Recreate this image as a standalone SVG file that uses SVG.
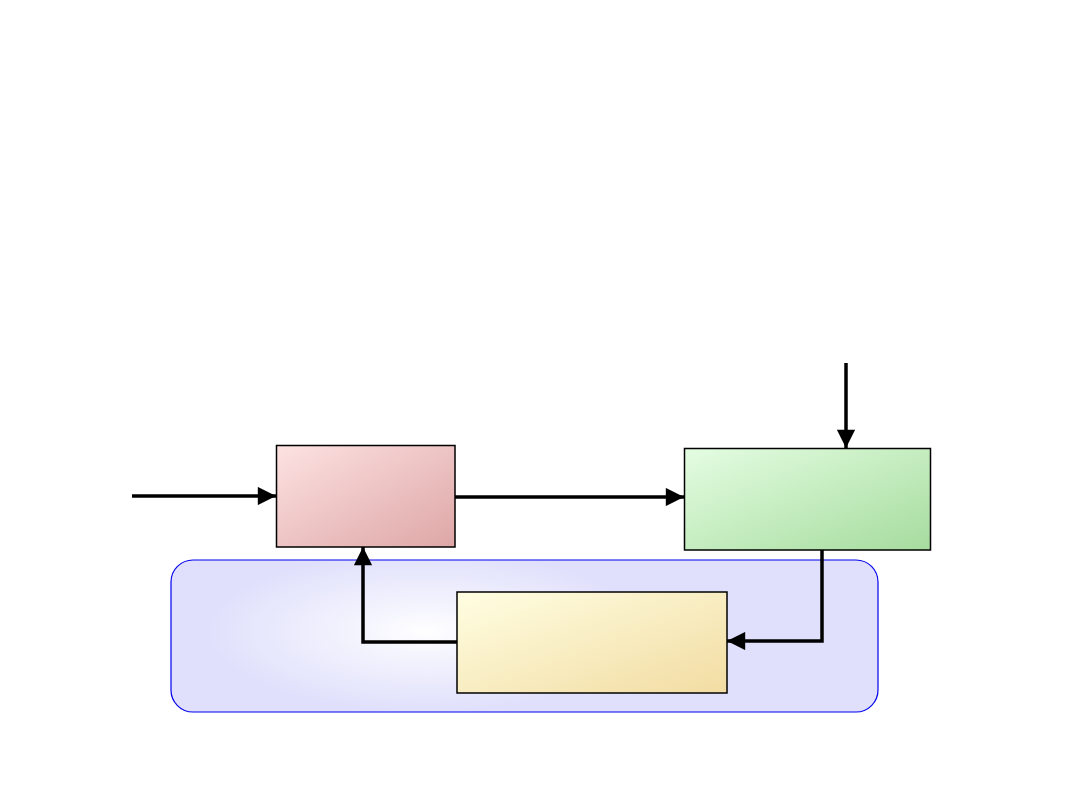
<svg xmlns="http://www.w3.org/2000/svg" width="1080" height="810" viewBox="0 0 1080 810">
<style>
.box{stroke:#000;stroke-width:1.5}
.conn{fill:none;stroke:#000;stroke-width:3.5}
</style>
<defs>
<linearGradient id="gRed" x1="0" y1="0" x2="1" y2="1"><stop offset="0" stop-color="#fde2e2"/><stop offset="1" stop-color="#dea6a6"/></linearGradient>
<linearGradient id="gGreen" x1="0" y1="0" x2="1" y2="1"><stop offset="0" stop-color="#e4fde2"/><stop offset="1" stop-color="#a6dc9e"/></linearGradient>
<linearGradient id="gYellow" x1="0" y1="0" x2="1" y2="1"><stop offset="0" stop-color="#fffee2"/><stop offset="1" stop-color="#f2dca2"/></linearGradient>
<radialGradient id="gBlue" cx="0.36" cy="0.47" r="0.5" gradientTransform="translate(0.36 0.47) scale(0.62 1.05) translate(-0.36 -0.47)"><stop offset="0" stop-color="#ffffff"/><stop offset="0.25" stop-color="#f6f6fe"/><stop offset="1" stop-color="#e0e0fc"/></radialGradient>
<marker id="ah" viewBox="0 0 10 10" refX="10" refY="5" markerWidth="5.5" markerHeight="5.2" orient="auto" markerUnits="strokeWidth"><path d="M0,0 L10,5 L0,10 z" fill="#000"/></marker>
</defs>
<g id="region">
<rect x="171" y="560" width="707" height="152" rx="22" ry="22" fill="url(#gBlue)" stroke="#0000ee" stroke-width="1.2"/>
</g>
<g id="nodeRed"><rect class="box" x="276.5" y="445.5" width="178.5" height="101.5" fill="url(#gRed)"/></g>
<g id="nodeGreen"><rect class="box" x="684.5" y="448.5" width="246" height="101.5" fill="url(#gGreen)"/></g>
<g id="nodeYellow"><rect class="box" x="457" y="592" width="270" height="101" fill="url(#gYellow)"/></g>
<g id="connectors">
<path class="conn" d="M132,496 H276" marker-end="url(#ah)"/>
<path class="conn" d="M455,497 H684" marker-end="url(#ah)"/>
<path class="conn" d="M846,363 V448" marker-end="url(#ah)"/>
<path class="conn" d="M822,550 V641 H727" marker-end="url(#ah)"/>
<path class="conn" d="M457,642 H363 V547" marker-end="url(#ah)"/>
</g>
</svg>
